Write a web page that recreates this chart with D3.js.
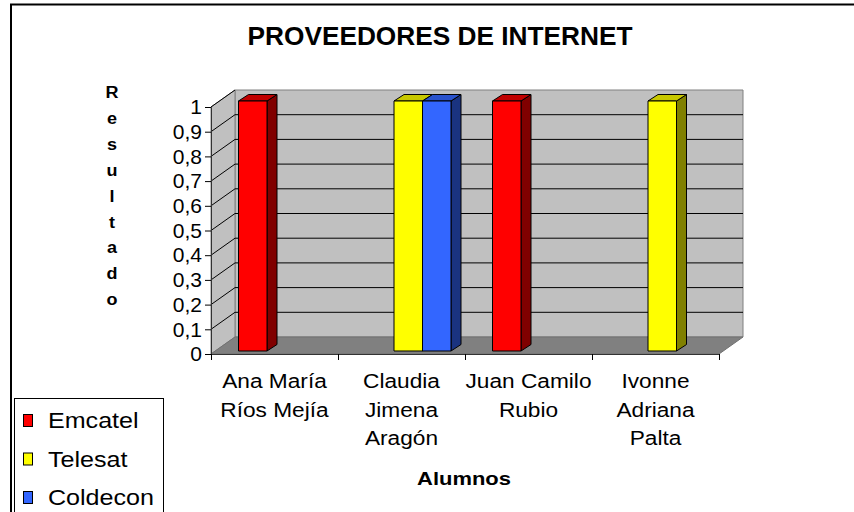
<!DOCTYPE html>
<html>
<head>
<meta charset="utf-8">
<script src="https://cdn.jsdelivr.net/npm/d3@7"></script>
<style>
  body { margin: 0; background: #fff; }
  svg { display: block; font-family: "Liberation Sans", Arial, sans-serif; }
</style>
</head>
<body>
<div id="chart"></div>
<script>
// data
const categories = ["Ana María\nRíos Mejía", "Claudia\nJimena\nAragón", "Juan Camilo\nRubio", "Ivonne\nAdriana\nPalta"];
const series = ["Emcatel", "Telesat", "Coldecon"];
const emcatel = [1, 0, 1, 0];
const telesat = [0, 1, 0, 1];
const coldecon = [0, 1, 0, 0];
const yTicks = [0, 0.1, 0.2, 0.3, 0.4, 0.5, 0.6, 0.7, 0.8, 0.9, 1];
const yTickLabels = ["0", "0,1", "0,2", "0,3", "0,4", "0,5", "0,6", "0,7", "0,8", "0,9", "1"];

const width = 854, height = 512;

const colors = {
  Emcatel:  { front: "#ff0000", side: "#800000", top: "#c00000" },
  Telesat:  { front: "#ffff00", side: "#808000", top: "#c8c800" },
  Coldecon: { front: "#3366ff", side: "#1a3380", top: "#2952cc" }
};

const values = { Emcatel: emcatel, Telesat: telesat, Coldecon: coldecon };

// 3d depth of the plot box and of each bar
const depthX = 24, depthY = -17;
const barDX = 10, barDY = -6.5;

const x0 = d3.scaleBand().domain(d3.range(categories.length)).range([211, 719]);
const x1 = d3.scaleBand().domain(series).range([27.5, 113]);
const y = d3.scaleLinear().domain([0, 1]).range([354, 107]);
const yBar = d3.scaleLinear().domain([0, 1]).range([351, 101]);

const svg = d3.select("#chart").append("svg")
  .attr("width", width)
  .attr("height", height);

// text with slight horizontal stretch like the original picture
function label(g, x, yy, str, size, weight, sx, anchor) {
  return g.append("text")
    .attr("transform", "translate(" + x + "," + yy + ") scale(" + sx + ",1)")
    .attr("text-anchor", anchor)
    .style("font-size", size + "px")
    .style("font-weight", weight)
    .style("fill", "#000")
    .text(str);
}

// outer frame
svg.append("path")
  .attr("d", "M11," + height + "V4.5H" + width)
  .attr("fill", "none")
  .attr("stroke", "#000")
  .attr("stroke-width", 2);

// title
label(svg, 440, 45, "PROVEEDORES DE INTERNET", 25, "bold", 1.05, "middle");

const xl = x0.range()[0], xr = x0.range()[1];
const line = d3.line();

// back wall
svg.append("path")
  .attr("d", line([[xl + depthX, y(1) + depthY], [xr + depthX, y(1) + depthY], [xr + depthX, y(0) + depthY], [xl + depthX, y(0) + depthY]]) + "Z")
  .attr("fill", "#c0c0c0").attr("stroke", "#808080");

// side wall
svg.append("path")
  .attr("d", line([[xl, y(0)], [xl, y(1)], [xl + depthX, y(1) + depthY], [xl + depthX, y(0) + depthY]]) + "Z")
  .attr("fill", "#c0c0c0").attr("stroke", "#808080");

// gridlines on back and side walls
const grid = svg.append("g");
grid.selectAll("line.back")
  .data(yTicks.filter(d => d > 0 && d < 1))
  .enter().append("line")
  .attr("x1", xl + depthX).attr("x2", xr + depthX)
  .attr("y1", d => y(d) + depthY).attr("y2", d => y(d) + depthY)
  .attr("stroke", "#000");
grid.selectAll("line.side")
  .data(yTicks.filter(d => d > 0))
  .enter().append("line")
  .attr("x1", xl).attr("x2", xl + depthX)
  .attr("y1", d => y(d)).attr("y2", d => y(d) + depthY)
  .attr("stroke", "#000");

// floor
svg.append("path")
  .attr("d", line([[xl, y(0)], [xr, y(0)], [xr + depthX, y(0) + depthY], [xl + depthX, y(0) + depthY]]) + "Z")
  .attr("fill", "#808080").attr("stroke", "#707070");

// y axis
const yAxis = svg.append("g")
  .attr("transform", "translate(" + xl + ",0)")
  .call(d3.axisLeft(y).tickValues(yTicks).tickFormat((d, i) => yTickLabels[i]).tickSize(6).tickPadding(3));
yAxis.select(".domain").attr("stroke", "#333");
yAxis.selectAll(".tick line").attr("stroke", "#000");
yAxis.selectAll("text")
  .style("font-size", "21px")
  .style("font-family", "'Liberation Sans', Arial, sans-serif")
  .attr("fill", "#000");

// x axis (ticks at category boundaries)
const xEdge = d3.scaleLinear().domain([0, categories.length]).range([xl, xr]);
const xAxis = svg.append("g")
  .attr("transform", "translate(0," + y(0) + ")")
  .call(d3.axisBottom(xEdge).ticks(categories.length).tickFormat("").tickSize(6).tickSizeOuter(0));
xAxis.select(".domain").attr("stroke", "#333");
xAxis.selectAll(".tick line").attr("stroke", "#000");

// bars
const bars = [];
categories.forEach((c, i) => {
  series.forEach(s => {
    if (values[s][i] > 0) bars.push({ cat: i, s: s, v: values[s][i] });
  });
});

const barG = svg.append("g").attr("stroke", "#000").attr("stroke-width", 1).attr("stroke-linejoin", "round");
bars.forEach(b => {
  const bx = x0(b.cat) + x1(b.s);
  const bw = x1.bandwidth();
  const yt = yBar(b.v), yb = yBar(0);
  const col = colors[b.s];
  barG.append("path")
    .attr("d", line([[bx + bw, yb], [bx + bw + barDX, yb + barDY], [bx + bw + barDX, yt + barDY], [bx + bw, yt]]) + "Z")
    .attr("fill", col.side);
  barG.append("path")
    .attr("d", line([[bx, yt], [bx + bw, yt], [bx + bw + barDX, yt + barDY], [bx + barDX, yt + barDY]]) + "Z")
    .attr("fill", col.top);
  barG.append("rect")
    .attr("x", bx).attr("y", yt)
    .attr("width", bw).attr("height", yb - yt)
    .attr("fill", col.front);
});

// category labels
const catG = svg.append("g");
categories.forEach((c, i) => {
  c.split("\n").forEach((ln, j) => {
    label(catG, x0(i) + x0.bandwidth() / 2, 388 + j * 28.5, ln, 21, "normal", 1.08, "middle");
  });
});

// axis titles
label(svg, 464, 485, "Alumnos", 18, "bold", 1.22, "middle");
"Resultado".split("").forEach((ch, i) => {
  label(svg, 112, 98 + i * 25.9, ch, 17, "bold", 1.06, "middle");
});

// legend
const legend = svg.append("g");
legend.append("rect")
  .attr("x", 14.5).attr("y", 398.5)
  .attr("width", 149).attr("height", 130)
  .attr("fill", "#fff").attr("stroke", "#000");
series.forEach((s, i) => {
  const base = 428 + i * 38.5;
  legend.append("rect")
    .attr("x", 23.5).attr("y", base - 13.5)
    .attr("width", 9).attr("height", 12)
    .attr("fill", colors[s].front).attr("stroke", "#000");
  label(legend, 48, base, s, 22, "normal", 1.14, "start");
});
</script>
</body>
</html>
